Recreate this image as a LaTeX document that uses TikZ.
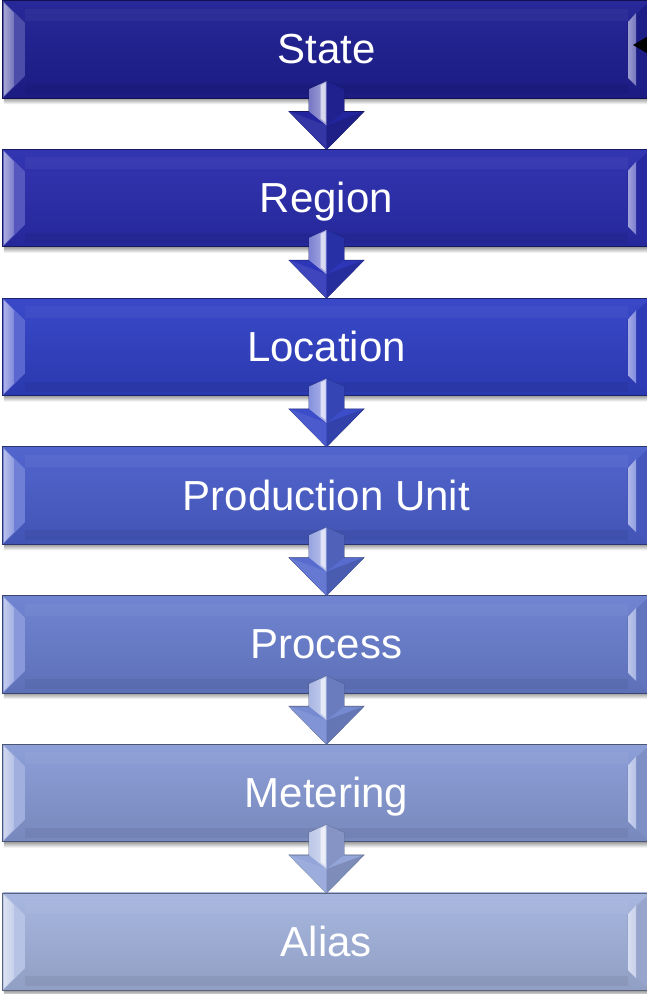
\documentclass[tikz,border=0pt]{standalone}
\usepackage{fontspec}
\setmainfont{Liberation Sans}
\usetikzlibrary{arrows.meta,calc}

\definecolor{c1}{HTML}{1F1F94}
\definecolor{c2}{HTML}{2A2DAE}
\definecolor{c3}{HTML}{3141C6}
\definecolor{c4}{HTML}{4B5FCC}
\definecolor{c5}{HTML}{6A7FD0}
\definecolor{c6}{HTML}{889BD6}
\definecolor{c7}{HTML}{A4B4DE}
\colorlet{a1}{c1!60!c2}
\colorlet{a2}{c2!60!c3}
\colorlet{a3}{c3!60!c4}
\colorlet{a4}{c4!60!c5}
\colorlet{a5}{c5!60!c6}
\colorlet{a6}{c6!60!c7}

\tikzset{
  boxnode/.style={minimum width=647pt, minimum height=97pt, inner sep=0pt},
  boxlabel/.style={text=white, inner sep=0pt, anchor=base, font=\fontsize{42}{48}\selectfont},
}

% name, y centre, colour, text
\newcommand\bevbox[4]{%
  \node[boxnode] (#1) at (326.5,#2) {};
  \shade[top color=black!40, bottom color=white] ([shift={(1,-6)}]#1.south west) rectangle ([shift={(0,0)}]#1.south east);
  \shade[top color=#3!96!white, middle color=#3, bottom color=#3!88!black] (#1.south west) rectangle (#1.north east);
  \fill[white, opacity=0.04] ([shift={(22,-8)}]#1.north west) rectangle ([shift={(-22,-20)}]#1.north east);
  \fill[black, opacity=0.05] ([shift={(22,4)}]#1.south west) rectangle ([shift={(-22,14)}]#1.south east);
  \fill[#3!80!white] (#1.north west) -- ([shift={(22,-22)}]#1.north west) -- ([shift={(22,22)}]#1.south west) -- (#1.south west) -- cycle;
  \shade[left color=#3!40!white, right color=#3!62!white] ([shift={(1,-2)}]#1.north west) -- ([shift={(11,-12)}]#1.north west) -- ([shift={(11,12)}]#1.south west) -- ([shift={(1,2)}]#1.south west) -- cycle;
  \fill[#3!92!black] ([shift={(-23,-22)}]#1.north east) -- (#1.north east) -- (#1.south east) -- ([shift={(-23,22)}]#1.south east) -- cycle;
  \shade[left color=#3!45!white, right color=#3!62!white] ([shift={(-22,-21)}]#1.north east) -- ([shift={(-14,-12)}]#1.north east) -- ([shift={(-14,12)}]#1.south east) -- ([shift={(-22,20)}]#1.south east) -- cycle;
  \draw[#3!55!black, line width=0.8pt] (#1.south west) rectangle (#1.north east);
  \node[boxlabel] (#1-t) at ([yshift=-14.5pt]#1.center) {#4};
}

% from, to, colour
\newcommand\blockarrow[3]{%
  \fill[#3, draw=#3!60!black, line width=0.6pt] ([shift={(-17.5,9)}]#1.south) -- ([shift={(0,17)}]#1.south) -- ([shift={(17.5,9)}]#1.south) -- ([shift={(17.5,38)}]#2.north) -- ([shift={(37.5,38)}]#2.north) -- (#2.north) -- ([shift={(-37.5,38)}]#2.north) -- ([shift={(-17.5,38)}]#2.north) -- cycle;
  \fill[#3!92!white] ([shift={(-37.5,38)}]#2.north) -- ([shift={(0,24)}]#2.north) -- (#2.north) -- cycle;
  \fill[#3!85!black] ([shift={(37.5,38)}]#2.north) -- ([shift={(0,24)}]#2.north) -- (#2.north) -- cycle;
  \shade[left color=#3!62!white, right color=#3!40!white] ([shift={(-17.5,9)}]#1.south) -- ([shift={(0,17)}]#1.south) -- ([shift={(0,24)}]#2.north) -- ([shift={(-17.5,38)}]#2.north) -- cycle;
  \fill[#3!18!white] ([shift={(-6,13)}]#1.south) -- ([shift={(-1,15.5)}]#1.south) -- ([shift={(-1,27)}]#2.north) -- ([shift={(-6,31)}]#2.north) -- cycle;
  \fill[#3!90!black] ([shift={(0,17)}]#1.south) -- ([shift={(17.5,9)}]#1.south) -- ([shift={(17.5,38)}]#2.north) -- ([shift={(0,24)}]#2.north) -- cycle;
}

\begin{document}
\begin{tikzpicture}[x=1pt, y=1pt]
  \useasboundingbox (0,0) rectangle (646,994);
  \fill[white] (0,0) rectangle (646,994);

  \bevbox{state}{944.5}{c1}{State}
  \bevbox{region}{795.8}{c2}{Region}
  \bevbox{location}{647.1}{c3}{Location}
  \bevbox{unit}{498.4}{c4}{Production Unit}
  \bevbox{process}{349.7}{c5}{Process}
  \bevbox{metering}{201}{c6}{Metering}
  \bevbox{alias}{52.3}{c7}{Alias}

  \blockarrow{state}{region}{a1}
  \blockarrow{region}{location}{a2}
  \blockarrow{location}{unit}{a3}
  \blockarrow{unit}{process}{a4}
  \blockarrow{process}{metering}{a5}
  \blockarrow{metering}{alias}{a6}

  \coordinate (ext) at (720,949);
  \coordinate (tipS) at (633,949);
  \draw[-{Triangle[length=14pt,width=16pt]}, line width=1.2pt] (ext) -- (tipS);
\end{tikzpicture}
\end{document}
